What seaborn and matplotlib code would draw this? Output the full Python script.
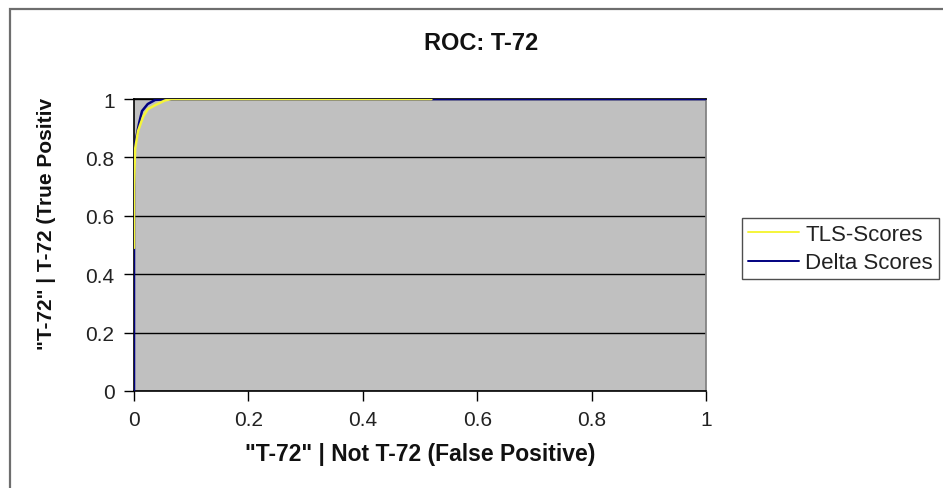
import pandas as pd
import numpy as np
import matplotlib.pyplot as plt
import seaborn as sns
from matplotlib.patches import Rectangle

sns.set_theme(style="white")
plt.rcParams['font.family'] = ['Liberation Sans', 'DejaVu Sans']

# ROC points
delta_fp = [0.0, 0.0, 0.0, 0.009, 0.014, 0.024, 0.037, 0.06, 1.0]
delta_tp = [0.0, 0.49, 0.83, 0.918, 0.959, 0.983, 0.997, 1.0, 1.0]

tls_fp = [0.0, 0.0, 0.002, 0.007, 0.016, 0.024, 0.037, 0.054, 0.065, 0.52]
tls_tp = [0.49, 0.70, 0.83, 0.89, 0.94, 0.965, 0.979, 0.995, 1.0, 1.0]

ticks = [0, 0.2, 0.4, 0.6, 0.8, 1]
tick_labels = ["0", "0.2", "0.4", "0.6", "0.8", "1"]

df = pd.concat([
    pd.DataFrame({'fp': tls_fp, 'tp': tls_tp, 'series': 'TLS-Scores'}),
    pd.DataFrame({'fp': delta_fp, 'tp': delta_tp, 'series': 'Delta Scores'}),
])

fig = plt.figure(figsize=(9.43, 4.89), dpi=100)
fig.patch.set_facecolor('white')
ax = fig.add_axes([0.1421, 0.1984, 0.6066, 0.597])
ax.set_facecolor('#C0C0C0')

# outer chart frame (only top/left edges fall inside the picture)
fig.patches.append(Rectangle((10 / 943, -0.2), 1.2, 1.2 - 10 / 489,
                             transform=fig.transFigure, fill=False,
                             edgecolor='#6E6E6E', linewidth=1.6))

# Delta first, TLS drawn on top
sns.lineplot(data=df[df.series == 'Delta Scores'], x='fp', y='tp', sort=False,
             estimator=None, color='#000080', linewidth=1.8, ax=ax, zorder=3,
             label='Delta Scores', legend=False)
sns.lineplot(data=df[df.series == 'TLS-Scores'], x='fp', y='tp', sort=False,
             estimator=None, color='#F5F53A', linewidth=1.8, ax=ax, zorder=4,
             label='TLS-Scores', legend=False)

ax.set_xlim(0, 1)
ax.set_ylim(0, 1)
ax.set_xticks(ticks)
ax.set_xticklabels(tick_labels)
ax.set_yticks(ticks)
ax.set_yticklabels(tick_labels)
ax.yaxis.grid(True, color='black', linewidth=1.0)
ax.set_axisbelow(True)
ax.tick_params(axis='both', direction='out', length=7, width=1, color='black',
               labelsize=15, labelcolor='#222222', left=True, bottom=True)
ax.tick_params(axis='x', pad=7)
ax.tick_params(axis='y', pad=7)

for side in ['left', 'bottom']:
    ax.spines[side].set_color('black')
    ax.spines[side].set_linewidth(1.2)
ax.spines['right'].set_color('#808080')
ax.spines['top'].set_color('black')

# title is centred on the whole chart area, not on the plot
fig.text(481 / 943, 1 - 43 / 489, 'ROC: T-72', fontsize=17, fontweight='bold',
         ha='center', va='center', color='#111111')

ax.set_xlabel('"T-72" | Not T-72 (False Positive)', fontsize=16.5,
              fontweight='bold', color='#111111')
ax.xaxis.label.set_va('center')
ax.xaxis.set_label_coords(0.5, (392 - 455) / 292)
ax.set_ylabel('"T-72" | T-72 (True Positiv', fontsize=15, fontweight='bold',
              color='#111111')
ax.yaxis.label.set_va('center')
ax.yaxis.set_label_coords(-0.1538, 0.575)

handles, labels = ax.get_legend_handles_labels()
order = [labels.index('TLS-Scores'), labels.index('Delta Scores')]
leg = fig.legend([handles[i] for i in order], [labels[i] for i in order],
                 loc='upper left', bbox_to_anchor=(742 / 943, 1 - 219 / 489),
                 fontsize=16, frameon=True, fancybox=False, handlelength=2.3,
                 borderpad=0.25, labelspacing=0.35, handletextpad=0.3,
                 borderaxespad=0)
leg.get_frame().set_edgecolor('#222222')
leg.get_frame().set_linewidth(1.0)
for line in leg.get_lines():
    line.set_linewidth(1.4)
for t in leg.get_texts():
    t.set_color('#222222')

plt.savefig('out.png', dpi=100)
